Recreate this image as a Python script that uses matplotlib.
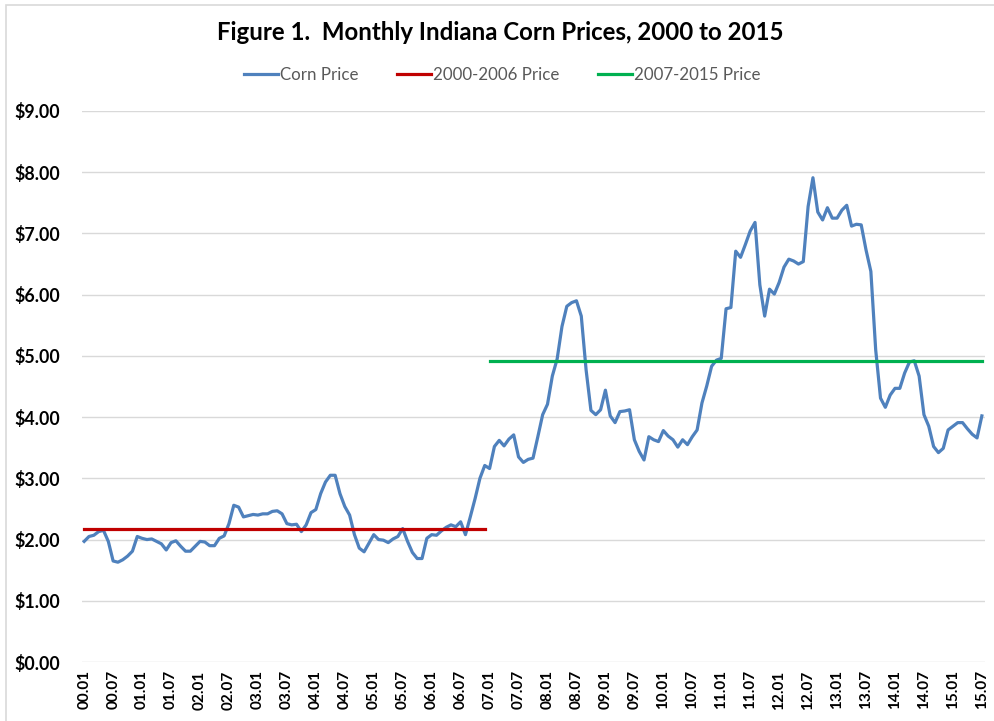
import matplotlib
matplotlib.use("Agg")
import matplotlib.pyplot as plt
from matplotlib.patches import Rectangle

# ---- data ----
start_year = 2000
n_months = 187  # 2000.01 .. 2015.07

price_2000 = [1.97, 2.05, 2.07, 2.13, 2.15, 1.97, 1.65, 1.63, 1.67, 1.73, 1.81, 2.05]
price_2001 = [2.02, 2.00, 2.01, 1.97, 1.93, 1.83, 1.95, 1.98, 1.89, 1.81, 1.81, 1.89]
price_2002 = [1.97, 1.96, 1.90, 1.90, 2.02, 2.06, 2.26, 2.56, 2.53, 2.37, 2.39, 2.41]
price_2003 = [2.40, 2.42, 2.42, 2.46, 2.47, 2.42, 2.26, 2.24, 2.25, 2.13, 2.24, 2.44]
price_2004 = [2.49, 2.75, 2.94, 3.05, 3.05, 2.75, 2.54, 2.40, 2.08, 1.86, 1.80, 1.94]
price_2005 = [2.08, 2.00, 1.99, 1.95, 2.01, 2.05, 2.18, 1.97, 1.79, 1.69, 1.69, 2.02]
price_2006 = [2.08, 2.07, 2.14, 2.20, 2.24, 2.21, 2.29, 2.08, 2.37, 2.67, 3.00, 3.21]
price_2007 = [3.16, 3.52, 3.62, 3.53, 3.64, 3.71, 3.35, 3.26, 3.31, 3.33, 3.68, 4.04]
price_2008 = [4.21, 4.67, 4.95, 5.48, 5.81, 5.87, 5.90, 5.65, 4.77, 4.11, 4.04, 4.12]
price_2009 = [4.44, 4.02, 3.91, 4.09, 4.10, 4.12, 3.63, 3.44, 3.30, 3.68, 3.63, 3.60]
price_2010 = [3.78, 3.69, 3.63, 3.51, 3.63, 3.55, 3.68, 3.79, 4.23, 4.51, 4.83, 4.93]
price_2011 = [4.96, 5.77, 5.79, 6.71, 6.61, 6.82, 7.04, 7.18, 6.16, 5.65, 6.09, 6.01]
price_2012 = [6.20, 6.45, 6.58, 6.55, 6.50, 6.54, 7.44, 7.91, 7.35, 7.22, 7.42, 7.25]
price_2013 = [7.25, 7.38, 7.46, 7.12, 7.15, 7.14, 6.73, 6.38, 5.10, 4.31, 4.16, 4.36]
price_2014 = [4.47, 4.47, 4.72, 4.90, 4.92, 4.67, 4.04, 3.85, 3.52, 3.42, 3.49, 3.79]
price_2015 = [3.85, 3.91, 3.91, 3.81, 3.72, 3.66, 4.02]

avg_2000_2006 = 2.17
avg_2007_2015 = 4.91

corn_price = (price_2000 + price_2001 + price_2002 + price_2003 + price_2004 +
              price_2005 + price_2006 + price_2007 + price_2008 + price_2009 +
              price_2010 + price_2011 + price_2012 + price_2013 + price_2014 +
              price_2015)

labels = []
for k in range(n_months):
    y = start_year + k // 12
    m = k % 12 + 1
    labels.append(f"{y % 100:02d}.{m:02d}")

x = list(range(n_months))
n_first = 84  # 2000.01 - 2006.12

# ---- figure ----
FONT = ["Lato", "DejaVu Sans"]
plt.rcParams["font.family"] = FONT

fig = plt.figure(figsize=(9.94, 7.21), dpi=100)
ax = fig.add_axes([82 / 994, 1 - 662 / 721, (985 - 82) / 994, (662 - 111) / 721])

ax.plot(x, corn_price, color="#4f81bd", lw=2.3, label="Corn Price", zorder=3,
        solid_joinstyle="round")
ax.plot(x[:n_first], [avg_2000_2006] * n_first, color="#c00000", lw=2.3,
        label="2000-2006 Price", zorder=4)
ax.plot(x[n_first:], [avg_2007_2015] * (n_months - n_first), color="#00b050", lw=2.3,
        label="2007-2015 Price", zorder=4)

ax.set_xlim(-0.45, n_months - 1 + 0.65)
ax.set_ylim(0, 9)
yt = list(range(0, 10))
ax.set_yticks(yt)
ax.set_yticklabels([f"${v:.2f}" for v in yt], fontweight="bold", fontsize=12.8)
ax.set_xticks(x[::6])
ax.set_xticklabels(labels[::6], rotation=90, fontweight="bold", fontsize=11)
ax.tick_params(axis="both", length=0, colors="black")
ax.tick_params(axis="y", pad=16)
ax.tick_params(axis="x", pad=6)
ax.grid(axis="y", color="#d9d9d9", lw=1)
ax.set_axisbelow(True)
for s in ax.spines.values():
    s.set_visible(False)

fig.text(0.503, 1 - 33 / 721, "Figure 1.  Monthly Indiana Corn Prices, 2000 to 2015",
         ha="center", va="center", fontsize=17.3, fontweight="bold")

leg = fig.legend(loc="center", bbox_to_anchor=(0.505, 1 - 75 / 721), ncol=3,
                 frameon=False, fontsize=12.2, handlelength=2.0, handletextpad=0.1,
                 columnspacing=2.3)
for t in leg.get_texts():
    t.set_color("#595959")

# chart-area border (top and left visible)
fig.patches.append(Rectangle((6 / 994, -0.1), 1.2, 1 - 5 / 721 + 0.1,
                             transform=fig.transFigure, fill=False,
                             edgecolor="#d9d9d9", lw=1.2))

fig.savefig("out.png", dpi=100, facecolor="white")
